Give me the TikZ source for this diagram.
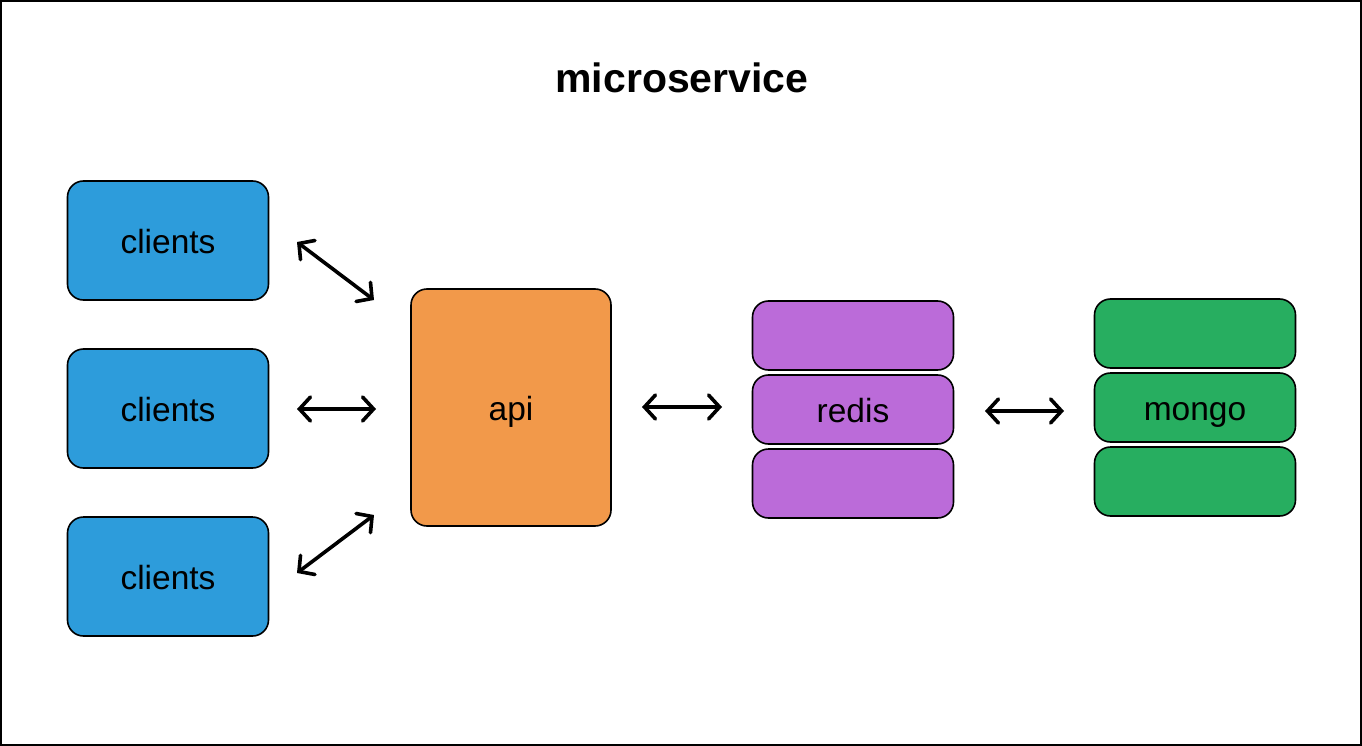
\documentclass[tikz,border=0pt]{standalone}
\usepackage{fontspec}
\setmainfont{Liberation Sans}
\usetikzlibrary{arrows.meta}
\definecolor{cblue}{HTML}{2D9CDB}
\definecolor{corange}{HTML}{F2994A}
\definecolor{cpurple}{HTML}{BB6BD9}
\definecolor{cgreen}{HTML}{27AE60}
\tikzset{
  box/.style={draw=black, line width=1.6pt, rounded corners=16pt, minimum width=201pt, inner sep=0pt, font=\fontsize{33.5}{38}\selectfont, text height=26pt, text depth=0pt},
  client/.style={box, fill=cblue, minimum height=119pt},
  db/.style={box, minimum height=69pt},
  link/.style={line width=3.6pt, {Straight Barb[length=11pt,width=24pt,line cap=round]}-{Straight Barb[length=11pt,width=24pt,line cap=round]}, line cap=round},
}
\begin{document}
\begin{tikzpicture}[x=1pt,y=-1pt]
\useasboundingbox (0,0) rectangle (1362,746);
\draw[line width=2pt] (1,1) rectangle (1361,745);
\node[font=\bfseries\fontsize{41}{46}\selectfont, inner sep=0pt, text height=26pt, text depth=0pt] (title) at (682,80) {microservice};
\node[client] (c1) at (168,240.5) {clients};
\node[client] (c2) at (168,408.5) {clients};
\node[client] (c3) at (168,576.5) {clients};
\node[box, fill=corange, minimum width=200pt, minimum height=237pt] (api) at (511,407.5) {api};
\node[db, fill=cpurple] (r1) at (853,335.5) {};
\node[db, fill=cpurple] (r2) at (853,409.5) {redis};
\node[db, fill=cpurple] (r3) at (853,483.5) {};
\node[db, fill=cgreen] (m1) at (1195,333.5) {};
\node[db, fill=cgreen] (m2) at (1195,407.5) {mongo};
\node[db, fill=cgreen] (m3) at (1195,481.5) {};
\coordinate (a1s) at (297,242);
\coordinate (a1e) at (374,300);
\coordinate (a2s) at (297,409);
\coordinate (a2e) at (376,409);
\coordinate (a3s) at (297,573);
\coordinate (a3e) at (374,515);
\coordinate (a4s) at (642,407);
\coordinate (a4e) at (722,407);
\coordinate (a5s) at (985,411);
\coordinate (a5e) at (1064,411);
\draw[link] (a1s) -- (a1e);
\draw[link] (a2s) -- (a2e);
\draw[link] (a3s) -- (a3e);
\draw[link] (a4s) -- (a4e);
\draw[link] (a5s) -- (a5e);
\end{tikzpicture}
\end{document}
